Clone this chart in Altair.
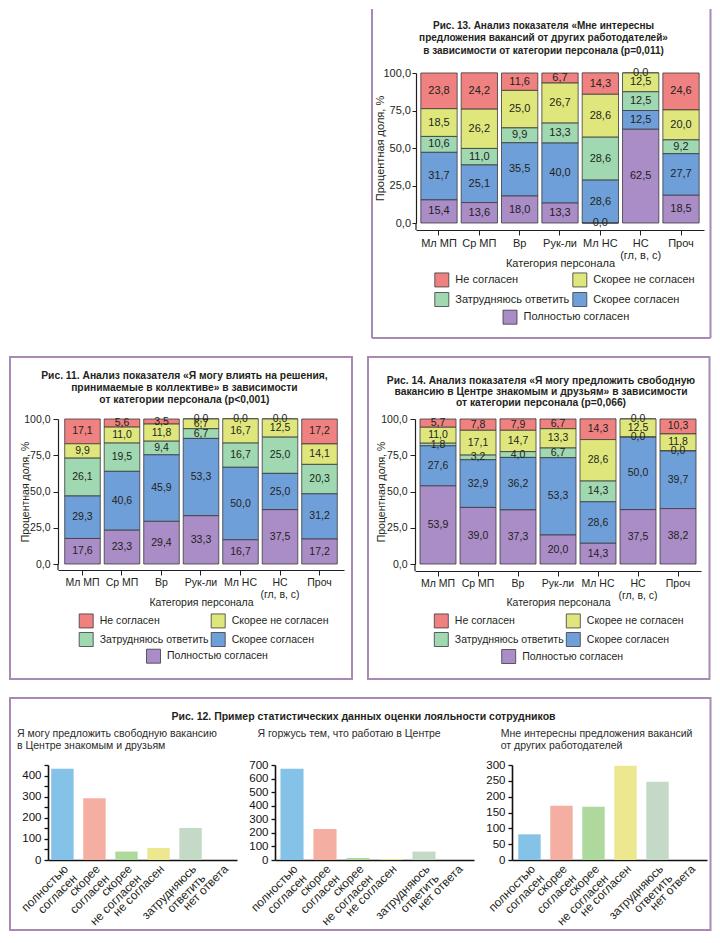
import altair as alt
import pandas as pd

FONT = "Liberation Sans"
INK = "#231f20"
EDGE = "#3a3a3a"
FRAME = "#a98ab5"

# ---------------- shared categories ----------------
categories = ["Мл МП", "Ср МП", "Вр", "Рук-ли", "Мл НС", "НС\n(гл, в, с)", "Проч"]
responses = ["Не согласен", "Скорее не согласен", "Затрудняюсь ответить",
             "Скорее согласен", "Полностью согласен"]
response_colors = ["#ef8181", "#dfe77c", "#9fd8b1", "#6f9fd9", "#aa8cc7"]

# ---------------- Рис. 13 ----------------
f13_disagree = [23.8, 24.2, 11.6, 6.7, 14.3, 0.0, 24.6]
f13_rather_not = [18.5, 26.2, 25.0, 26.7, 28.6, 12.5, 20.0]
f13_unsure = [10.6, 11.0, 9.9, 13.3, 28.6, 12.5, 9.2]
f13_rather_agree = [31.7, 25.1, 35.5, 40.0, 28.6, 12.5, 27.7]
f13_agree = [15.4, 13.6, 18.0, 13.3, 0.0, 62.5, 18.5]
f13_title = ["Рис. 13. Анализ показателя «Мне интересны",
             "предложения вакансий от других работодателей»",
             "в зависимости от категории персонала (p=0,011)"]

# ---------------- Рис. 11 ----------------
f11_disagree = [17.1, 5.6, 3.5, 0.0, 0.0, 0.0, 17.2]
f11_rather_not = [9.9, 11.0, 11.8, 6.7, 16.7, 12.5, 14.1]
f11_unsure = [26.1, 19.5, 9.4, 6.7, 16.7, 25.0, 20.3]
f11_rather_agree = [29.3, 40.6, 45.9, 53.3, 50.0, 25.0, 31.2]
f11_agree = [17.6, 23.3, 29.4, 33.3, 16.7, 37.5, 17.2]
f11_title = ["Рис. 11. Анализ показателя «Я могу влиять на решения,",
             "принимаемые в коллективе» в зависимости",
             "от категории персонала (p<0,001)"]

# ---------------- Рис. 14 ----------------
f14_disagree = [5.7, 7.8, 7.9, 6.7, 14.3, 0.0, 10.3]
f14_rather_not = [11.0, 17.1, 14.7, 13.3, 28.6, 12.5, 11.8]
f14_unsure = [1.8, 3.2, 4.0, 6.7, 14.3, 0.0, 0.0]
f14_rather_agree = [27.6, 32.9, 36.2, 53.3, 28.6, 50.0, 39.7]
f14_agree = [53.9, 39.0, 37.3, 20.0, 14.3, 37.5, 38.2]
f14_title = ["Рис. 14. Анализ показателя «Я могу предложить свободную",
             "вакансию в Центре знакомым и друзьям» в зависимости",
             "от категории персонала (p=0,066)"]

# ---------------- Рис. 12 ----------------
answers12 = ["полностью\nсогласен", "скорее\nсогласен", "скорее\nне согласен",
             "не согласен", "затрудняюсь\nответить", "нет ответа"]
answer_colors = ["#84c3e7", "#f5aea2", "#aed89c", "#ede78f", "#c4dac7", "#dddddd"]
p1_counts = [432, 293, 40, 57, 152, 0]
p2_counts = [672, 228, 15, 7, 62, 0]
p3_counts = [81, 171, 168, 298, 247, 0]
f12_title = ["Рис. 12. Пример статистических данных оценки лояльности сотрудников"]
p1_sub = ["Я могу предложить свободную вакансию", "в Центре знакомым и друзьям"]
p2_sub = ["Я горжусь тем, что работаю в Центре"]
p3_sub = ["Мне интересны предложения вакансий", "от других работодателей"]


def one_row():
    return alt.Data(values=[{"k": 1}])


def frame_rect(x1, x2, y1, y2):
    return alt.Chart(one_row()).mark_rect(
        fillOpacity=0, stroke=FRAME, strokeWidth=2
    ).encode(x=alt.value(x1), x2=alt.value(x2), y=alt.value(y1), y2=alt.value(y2))


def frame_rule(x1, x2, y1, y2, color=FRAME, width=2):
    return alt.Chart(one_row()).mark_rule(stroke=color, strokeWidth=width).encode(
        x=alt.value(x1), x2=alt.value(x2), y=alt.value(y1), y2=alt.value(y2))


def text_block(lines, x, y, size, weight="normal", align="center", lh=12, color=INK):
    return alt.Chart(one_row()).mark_text(
        text=lines, font=FONT, fontSize=size, fontWeight=weight, color=color,
        align=align, baseline="alphabetic", lineHeight=lh
    ).encode(x=alt.value(x), y=alt.value(y))


def spacer():
    return alt.Chart(one_row()).mark_rect(fill="white").encode(
        x=alt.value(0), x2=alt.value(1), y=alt.value(0), y2=alt.value(1)
    ).properties(width=1, height=1)


def indep(c):
    return c.resolve_scale(color="independent", fill="independent").resolve_legend(
        color="independent", fill="independent")


def stack_df(disagree, rather_not, unsure, rather_agree, agree):
    rows = []
    series = [disagree, rather_not, unsure, rather_agree, agree]
    for r_i, (resp, vals) in enumerate(zip(responses, series)):
        for cat, v in zip(categories, vals):
            rows.append({"cat": cat, "resp": resp, "value": v, "order": 4 - r_i})
    return pd.DataFrame(rows)


def stacked_figure(df, title_lines, p, frame_layers):
    W, H, fs = p["W"], p["H"], p["fs"]
    xscale = alt.Scale(domain=categories, paddingInner=0.1, paddingOuter=p["po"])
    yscale = alt.Scale(domain=[0, 100], nice=False, zero=True)
    xaxis = alt.Axis(
        title="Категория персонала", labelExpr="split(datum.label, '\\n')",
        labelFont=FONT, labelFontSize=fs, labelColor=INK, labelLineHeight=fs + 1.5,
        labelAngle=0, labelPadding=2, labelOverlap=False, tickSize=5, tickColor=INK,
        tickWidth=1, domainColor=INK, domainWidth=1.2, offset=p["xoff"], grid=False,
        titleFont=FONT, titleFontSize=fs, titleFontWeight="normal", titleColor=INK,
        titleY=p["xtitleY"], titleBaseline="middle")
    yaxis = alt.Axis(
        title="Процентная доля, %", values=[0, 25, 50, 75, 100],
        labelExpr="replace(format(datum.value, '.1f'), '.', ',')",
        labelFont=FONT, labelFontSize=fs, labelColor=INK, labelPadding=p["ypad"],
        tickSize=p["ytick"], tickColor=INK, tickWidth=1, domainColor=INK,
        domainWidth=1.2, grid=False, titleFont=FONT, titleFontSize=fs,
        titleFontWeight="normal", titleColor=INK, titleX=p["ytitleX"], titleY=H / 2,
        titleAngle=270, titleAlign="center", titleBaseline="middle")
    base = alt.Chart(df).transform_stack(
        stack="value", as_=["y0", "y1"], groupby=["cat"],
        sort=[alt.SortField("order", order="ascending")]
    ).transform_calculate(
        mid="(datum.y0 + datum.y1) / 2",
        lbl="replace(format(datum.value, '.1f'), '.', ',')",
        resp2="datum.resp")
    leg1 = alt.Legend(
        values=responses[:4], orient="none", legendX=p["lx"], legendY=p["ly"],
        columns=2, direction="horizontal", title=None, symbolType="square",
        symbolSize=196, symbolStrokeColor=EDGE, symbolStrokeWidth=0.8,
        labelFont=FONT, labelFontSize=fs, labelColor=INK, labelOffset=6,
        rowPadding=p["rp"], columnPadding=p["cp"], padding=0)
    leg2 = alt.Legend(
        orient="none", legendX=p["lx2"], legendY=p["ly2"], title=None,
        symbolType="square", symbolSize=196, symbolStrokeColor=EDGE,
        symbolStrokeWidth=0.8, labelFont=FONT, labelFontSize=fs, labelColor=INK,
        labelOffset=6, padding=0)
    bars4 = base.transform_filter(alt.datum.resp != "Полностью согласен").mark_bar(
        stroke=EDGE, strokeWidth=0.8
    ).encode(
        x=alt.X("cat:N", scale=xscale, axis=xaxis),
        y=alt.Y("y0:Q", scale=yscale, axis=yaxis),
        y2="y1:Q",
        color=alt.Color("resp:N", scale=alt.Scale(domain=responses, range=response_colors),
                        legend=leg1))
    bars1 = base.transform_filter(alt.datum.resp == "Полностью согласен").mark_bar(
        stroke=EDGE, strokeWidth=0.8
    ).encode(
        x=alt.X("cat:N", scale=xscale, axis=xaxis),
        y=alt.Y("y0:Q", scale=yscale, axis=yaxis),
        y2="y1:Q",
        fill=alt.Fill("resp2:N", scale=alt.Scale(domain=[responses[4]],
                                                 range=[response_colors[4]]),
                      legend=leg2))
    labels = base.mark_text(
        font=FONT, fontSize=fs, color=INK, baseline="middle", align="center"
    ).encode(
        x=alt.X("cat:N", scale=xscale, axis=xaxis),
        y=alt.Y("mid:Q", scale=yscale, axis=yaxis),
        text="lbl:N")
    title = text_block(title_lines, p["tx"], p["ty"], p["tfs"], weight="bold",
                       lh=p["tlh"])
    # short extension of the y-axis line down to the offset x-axis line
    corner = frame_rule(0, 0, H, H + p["xoff"], color=INK, width=1.2)
    return alt.layer(*frame_layers, title, bars4, bars1, labels, corner).properties(
        width=W, height=H)


def count_panel(values, W, po, ymax, ystep, extra):
    df = pd.DataFrame({"answer": answers12, "count": values})
    bars = alt.Chart(df).mark_bar().encode(
        x=alt.X("answer:N",
                scale=alt.Scale(domain=answers12, paddingInner=0.3, paddingOuter=po),
                axis=alt.Axis(title=None, labelAngle=315, labelAlign="right",
                              labelBaseline="top",
                              labelExpr="split(datum.label, '\\n')",
                              labelFont=FONT, labelFontSize=12, labelColor=INK,
                              labelLineHeight=13, labelPadding=3, ticks=False,
                              domainColor="#111111", domainWidth=1.6,
                              labelOverlap=False, grid=False)),
        y=alt.Y("count:Q", scale=alt.Scale(domain=[0, ymax], nice=False),
                axis=alt.Axis(title=None, values=list(range(0, ymax + 1, ystep)),
                              labelFont=FONT, labelFontSize=11.5, labelColor="#111111",
                              tickSize=4, tickColor="#111111", tickWidth=1.3,
                              domainColor="#111111", domainWidth=1.6, grid=False,
                              labelPadding=3)),
        color=alt.Color("answer:N", scale=alt.Scale(domain=answers12, range=answer_colors),
                        legend=None))
    return alt.layer(*extra, bars).properties(width=W, height=95)


# ---------------- build figures ----------------
p13 = dict(W=288, H=150, po=0.12, fs=11, xoff=7, xtitleY=33, ytitleX=-36, ytick=4,
           ypad=1.5, tx=127.5, ty=-44.5, tlh=12.7, tfs=10, lx=18.3, ly=199, rp=1,
           cp=0, lx2=86.5, ly2=236.7)
fig13 = stacked_figure(
    stack_df(f13_disagree, f13_rather_not, f13_unsure, f13_rather_agree, f13_agree),
    f13_title, p13,
    [frame_rule(-44, -44, -64, 265), frame_rule(294.5, 294.5, -64, 265),
     frame_rule(-44, 294.5, 265, 265)])

p11 = dict(W=286, H=145, po=0.17, fs=10.5, xoff=6, xtitleY=32.7, ytitleX=-33, ytick=5,
           ypad=3, tx=126.4, ty=-39.8, tlh=11.7, tfs=10.3, lx=20.7, ly=194, rp=0,
           cp=0, lx2=88, ly2=229.7)
fig11 = stacked_figure(
    stack_df(f11_disagree, f11_rather_not, f11_unsure, f11_rather_agree, f11_agree),
    f11_title, p11, [frame_rect(-48, 294, -62, 260)])

p14 = dict(W=286, H=145, po=0.125, fs=10.5, xoff=7, xtitleY=31, ytitleX=-34, ytick=5,
           ypad=3, tx=126, ty=-35.5, tlh=11.4, tfs=10.3, lx=18.8, ly=194, rp=0,
           cp=0, lx2=86.2, ly2=230)
fig14 = stacked_figure(
    stack_df(f14_disagree, f14_rather_not, f14_unsure, f14_rather_agree, f14_agree),
    f14_title, p14, [frame_rect(-47, 294.5, -62, 260)])

SUB = "#2b2b2b"
panel1 = count_panel(p1_counts, 189, 0.1, 450, 50,
                     [text_block(p1_sub, -31, -28, 10.5, align="left", lh=11.5,
                                 color=SUB)])
panel2 = count_panel(p2_counts, 199, 0.165, 700, 100,
                     [frame_rect(-265, 435.5, -67, 165),
                      text_block(f12_title, 88.5, -45, 10.5, weight="bold"),
                      text_block(p2_sub, -17.5, -28, 10.5, align="left", lh=11.5,
                                 color=SUB)])
panel3 = count_panel(p3_counts, 195, 0.196, 300, 50,
                     [text_block(p3_sub, -11.3, -28, 10.5, align="left", lh=11.5,
                                 color=SUB)])

row1 = indep(alt.hconcat(spacer(), fig13, spacing=362))
pair = indep(alt.hconcat(fig11, fig14, spacing=14))
row2 = indep(alt.hconcat(spacer(), pair, spacing=0))
trio = indep(alt.hconcat(panel1, panel2, panel3, spacing=38, bounds="flush"))
row3 = indep(alt.hconcat(spacer(), trio, spacing=0))

chart = indep(alt.vconcat(row1, row2, row3, spacing=17)).properties(
    padding=0, background="white"
).configure(font=FONT).configure_view(strokeWidth=0)

chart.save("out.html", embed_options={"renderer": "svg", "actions": False})
